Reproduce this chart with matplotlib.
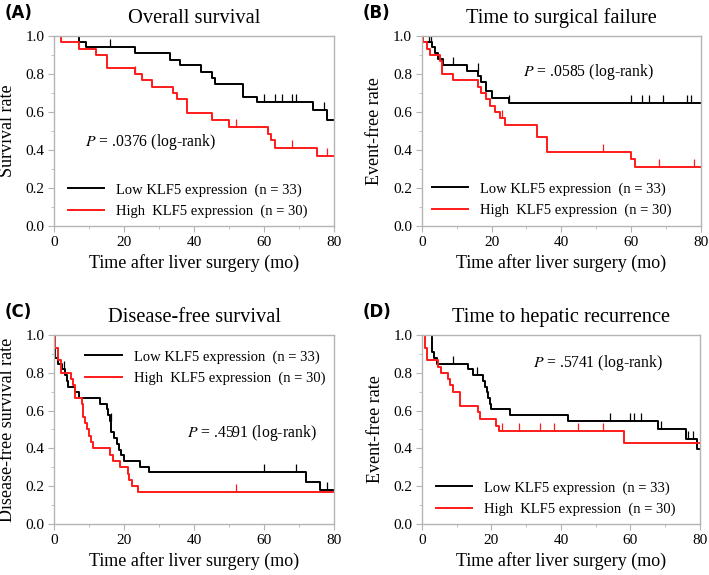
import numpy as np
import matplotlib
matplotlib.use('Agg')
import matplotlib.pyplot as plt
from matplotlib.pyplot import MultipleLocator

plt.rcParams['font.family'] = 'Liberation Serif'
plt.rcParams['mathtext.fontset'] = 'stix'

# ---- data (time in months, survival after the step) ----
# (A) Overall survival
a_low_t = [0, 7, 9, 23, 33, 36, 42, 45, 46, 54, 58, 74, 78, 80]
a_low_s = [1, .97, .94, .91, .875, .845, .81, .78, .745, .68, .65, .61, .56, .56]
a_low_c = [16, 60, 63, 65, 68, 69, 77]
a_high_t = [0, 2, 7, 12, 15, 23, 25, 28, 34, 35, 38, 45, 50, 61, 62, 63, 75, 80]
a_high_s = [1, .967, .933, .9, .833, .8, .767, .733, .7, .667, .593, .556, .52, .485, .45, .41, .37, .37]
a_high_c = [23, 52, 68, 78]

# (B) Time to surgical failure
b_low_t = [0, 0.5, 3, 3.7, 4.7, 6.1, 13, 16.1, 17.1, 18.5, 20, 25, 80]
b_low_s = [1, .97, .94, .91, .88, .848, .818, .788, .758, .71, .676, .645, .645]
b_low_c = [2, 2.8, 9, 16, 25, 60, 63, 65, 69, 76, 77]
b_high_t = [0, 0.5, 1.5, 2.3, 5.2, 5.8, 9, 16, 17.1, 18.5, 19.5, 21, 22.5, 24, 33, 36, 60, 61, 80]
b_high_s = [1, .967, .933, .9, .867, .8, .767, .733, .7, .667, .633, .6, .567, .533, .467, .39, .35, .31, .31]
b_high_c = [23, 52, 68, 78]

# (C) Disease-free survival
c_low_t = [0, 0.2, 1, 2.2, 3.1, 3.8, 4, 6, 7, 13.1, 15, 15.5, 16, 16.3, 17, 17.9, 18.6, 19.1, 20,
           24.6, 27.2, 72, 76, 80]
c_low_s = [1, .879, .848, .818, .788, .758, .727, .697, .667, .636, .606, .576, .545, .485, .455, .424,
           .394, .364, .333, .303, .273, .22, .18, .18]
c_low_c = [2.8, 16.2, 60, 69, 78]
c_high_t = [0, 0.3, 1, 1.9, 4.8, 5.5, 6, 7.9, 8.4, 8.9, 9.3, 10.1, 10.5, 11.2, 16, 16.9, 18.9, 21,
            21.5, 22.2, 24.1, 80]
c_high_s = [1, .933, .867, .8, .767, .733, .667, .633, .567, .533, .5, .467, .433, .4, .367, .333, .3,
            .267, .233, .2, .167, .167]
c_high_c = [52]

# (D) Time to hepatic recurrence
d_low_t = [0, 2.9, 3.5, 4.4, 13.1, 14.7, 17.6, 18.1, 18.6, 19, 19.5, 20, 25.3, 42, 68, 76, 79, 80]
d_low_s = [1, .909, .879, .848, .818, .788, .758, .727, .697, .667, .636, .606, .576, .545, .5, .45,
           .395, .395]
d_low_c = [9, 15.7, 54, 60, 61, 63, 68.8, 76.6, 78]
d_high_t = [0, 0.8, 1.4, 4.6, 5.6, 7.5, 8, 8.9, 10.9, 16, 16.8, 21.2, 22.1, 58, 80]
d_high_s = [1, .933, .867, .833, .8, .767, .733, .7, .625, .59, .556, .52, .49, .43, .43]
d_high_c = [23, 28, 34, 38, 45, 52]

low_label = 'Low KLF5 expression  (n = 33)'
high_label = 'High  KLF5 expression  (n = 30)'

panels = [
    # letter, title, ylabel, p text, low, high, axes rect, legend anchor, p pos
    ('(A)', 'Overall survival', 'Survival rate', '.0376',
     (a_low_t, a_low_s, a_low_c), (a_high_t, a_high_s, a_high_c),
     [0.0762, 0.607, 0.3949, 0.3304], (0.05, 0.134), (0.111, 0.442)),
    ('(B)', 'Time to surgical failure', 'Event-free rate', '.0585',
     (b_low_t, b_low_s, b_low_c), (b_high_t, b_high_s, b_high_c),
     [0.5948, 0.607, 0.3939, 0.3304], (0.036, 0.139), (0.362, 0.81)),
    ('(C)', 'Disease-free survival', 'Disease-free survival rate', '.4591',
     (c_low_t, c_low_s, c_low_c), (c_high_t, c_high_s, c_high_c),
     [0.0762, 0.0887, 0.3949, 0.3287], (0.111, 0.828), (0.475, 0.481)),
    ('(D)', 'Time to hepatic recurrence', 'Event-free rate', '.5741',
     (d_low_t, d_low_s, d_low_c), (d_high_t, d_high_s, d_high_c),
     [0.5952, 0.0887, 0.3921, 0.3287], (0.05, 0.135), (0.4, 0.852)),
]

RED = '#ff1a1a'
censor_mark = [(0, 0), (0, 1)]


def step_value(t, s, x):
    # value of the KM step function at time x
    i = np.searchsorted(t, x, side='right') - 1
    return s[i]


fig = plt.figure(figsize=(7.09, 5.75), dpi=100)

for letter, title, ylab, ptxt, low, high, rect, leg_xy, p_xy in panels:
    ax = fig.add_axes(rect)
    for (t, s, c), col, lab in [(low, 'black', low_label), (high, RED, high_label)]:
        ax.plot(t, s, drawstyle='steps-post', color=col, linewidth=1.4, label=lab)
        cy = [step_value(t, s, x) for x in c]
        ax.plot(c, cy, linestyle='none', marker=censor_mark, markersize=12,
                markeredgecolor=col, markerfacecolor='none', markeredgewidth=0.9)
    ax.set_xlim(0, 80)
    ax.set_ylim(0, 1.0)
    ax.xaxis.set_major_locator(MultipleLocator(20))
    ax.xaxis.set_minor_locator(MultipleLocator(10))
    ax.yaxis.set_major_locator(MultipleLocator(0.2))
    ax.yaxis.set_minor_locator(MultipleLocator(0.1))
    ax.yaxis.set_major_formatter(plt.FormatStrFormatter('%.1f'))
    for sp in ax.spines.values():
        sp.set_color('#b4b4b4')
        sp.set_linewidth(1.0)
    ax.tick_params(which='both', color='#b4b4b4', direction='out', labelsize=11, pad=3)
    ax.tick_params(which='major', length=4)
    ax.tick_params(which='minor', length=2.5)
    ax.set_xlabel('Time after liver surgery (mo)', fontsize=13, labelpad=4)
    ax.set_ylabel(ylab, fontsize=13, labelpad=7)
    ax.set_title(title, fontsize=14.7, pad=9)
    ax.text(p_xy[0], p_xy[1], '$P$ = ' + ptxt + ' (log-rank)', transform=ax.transAxes,
            fontsize=11.3, va='center', ha='left')
    ax.legend(loc='center left', bbox_to_anchor=leg_xy, frameon=False, fontsize=10.5,
              handlelength=2.5, handletextpad=0.82, labelspacing=0.53,
              borderpad=0, borderaxespad=0)
    fx = 0.007 if letter in ('(A)', '(C)') else 0.512
    fy = rect[1] + rect[3] + 0.04
    fig.text(fx, fy, letter, fontsize=12, fontweight='bold', family='DejaVu Sans',
             ha='left', va='center')

fig.savefig('out.png', dpi=100)
